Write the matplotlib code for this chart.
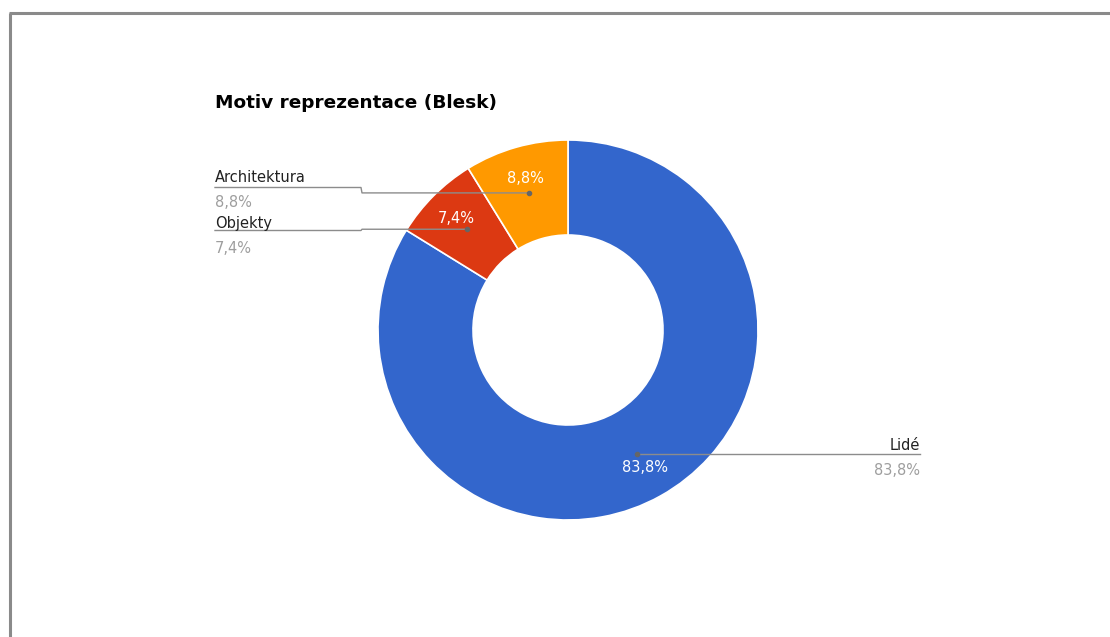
import numpy as np
import matplotlib
matplotlib.use("Agg")
import matplotlib.pyplot as plt

# Data
categories = ["Lidé", "Objekty", "Architektura"]
shares = [83.8, 7.4, 8.8]
colors = ["#3366CC", "#DC3912", "#FF9900"]
title = "Motiv reprezentace (Blesk)"


def pct(v):
    return f"{v:.1f}".replace(".", ",") + "%"


W, H = 1110, 637
fig = plt.figure(figsize=(W / 100, H / 100), dpi=100)
fig.patch.set_facecolor("white")

# Donut axes: centre (568, 330) px, radius 190 px
cx, cy, R = 568, 330, 190
ax = fig.add_axes([(cx - R) / W, (H - cy - R) / H, 2 * R / W, 2 * R / H])
wedges, _ = ax.pie(
    shares, colors=colors, startangle=90, counterclock=False, radius=1.0,
    wedgeprops=dict(width=0.5, edgecolor="white", linewidth=1.2),
)
ax.set_xlim(-1, 1)
ax.set_ylim(-1, 1)
ax.set_aspect("equal")
ax.axis("off")

# Pixel-space overlay for frame, title, leader lines and labels
over = fig.add_axes([0, 0, 1, 1])
over.set_xlim(0, W)
over.set_ylim(H, 0)
over.axis("off")


def to_px(x, y):
    disp = ax.transData.transform((x, y))
    return over.transData.inverted().transform(disp)


# Frame lines (top and left)
over.plot([9, W], [13, 13], color="#8a8a8a", lw=2.2, solid_capstyle="butt")
over.plot([9.5, 9.5], [13, H], color="#8a8a8a", lw=2.2, solid_capstyle="butt")

over.text(215, 108, title, fontsize=13.3, fontweight="bold", color="black",
          family="DejaVu Sans", ha="left", va="baseline")

# Outside label layout
layout = {
    "Architektura": dict(line_y=187.5, elbow=362, end=215, side="left",
                         name_base=182, val_base=207),
    "Objekty": dict(line_y=230.5, elbow=362, end=215, side="left",
                    name_base=228, val_base=253),
    "Lidé": dict(line_y=None, elbow=None, end=920, side="right",
                 name_base=450, val_base=475),
}

for w, cat, val in zip(wedges, categories, shares):
    mid = np.deg2rad((w.theta1 + w.theta2) / 2)
    # value inside the ring
    lx, ly = to_px(0.83 * np.cos(mid), 0.83 * np.sin(mid))
    # leader anchor
    dx, dy = to_px(0.75 * np.cos(mid), 0.75 * np.sin(mid))
    L = layout[cat]
    if L["side"] == "left":
        xs = [dx, L["elbow"], L["elbow"] - 1, L["end"]]
        ys = [dy, dy, L["line_y"], L["line_y"]]
        ha, tx = "left", L["end"]
    else:
        xs = [dx, L["end"]]
        ys = [dy, dy]
        ha, tx = "right", L["end"]
    over.plot(xs, ys, color="#8c8c8c", lw=1.0, zorder=3)
    over.plot([dx], [dy], "o", color="#666666", ms=3, zorder=4)
    over.text(lx, ly, pct(val), color="white", fontsize=10.5, ha="center",
              va="center", zorder=5)
    over.text(tx, L["name_base"], cat, color="#222222", fontsize=10.5,
              ha=ha, va="baseline")
    over.text(tx, L["val_base"], pct(val), color="#9e9e9e", fontsize=10.5,
              ha=ha, va="baseline")

fig.savefig("out.png", dpi=100, facecolor="white")
